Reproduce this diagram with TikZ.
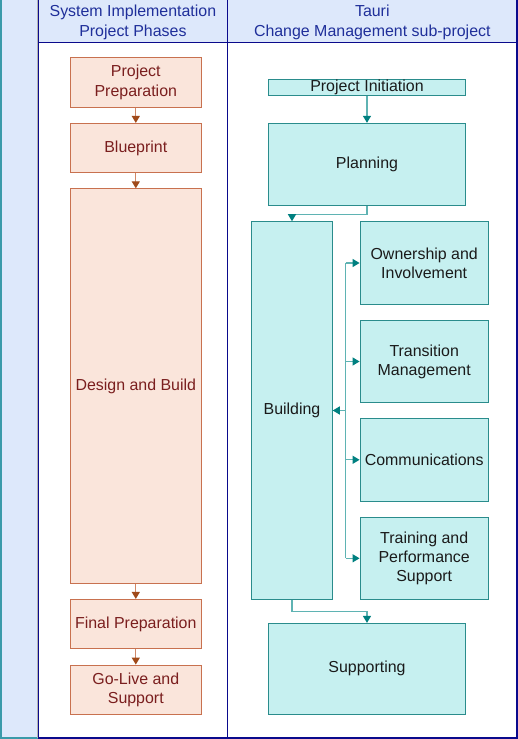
\documentclass[tikz,border=0pt]{standalone}
\usepackage{fontspec}
\setmainfont{Liberation Sans}
\usetikzlibrary{arrows.meta}
\definecolor{hdrfill}{HTML}{DDE8FB}
\definecolor{navy}{HTML}{0A0A8C}
\definecolor{stripedge}{HTML}{3A9AAA}
\definecolor{hdrtext}{HTML}{1F2F9A}
\definecolor{pfill}{HTML}{FAE5DB}
\definecolor{pdraw}{HTML}{C8714F}
\definecolor{ptext}{HTML}{7A1E1E}
\definecolor{parrow}{HTML}{A04A1A}
\definecolor{pline}{HTML}{D08868}
\definecolor{tfill}{HTML}{C6F0F0}
\definecolor{tdraw}{HTML}{2A8C8C}
\definecolor{tline}{HTML}{5FB3B3}
\definecolor{tarrow}{HTML}{008080}
\definecolor{ttext}{HTML}{1A1A1A}
\tikzset{
  base/.style={rectangle, inner sep=0pt, align=center, line width=0.9bp,
    font=\fontsize{16}{19.3}\selectfont},
  pbox/.style={base, fill=pfill, draw=pdraw, text=ptext, minimum width=131.5bp},
  tbox/.style={base, fill=tfill, draw=tdraw, text=ttext},
  parr/.style={draw=pline, line width=1.3bp, -{Triangle[length=7bp,width=8bp,color=parrow]}},
  tarr/.style={draw=tline, line width=1.3bp, -{Triangle[length=7bp,width=8bp,color=tarrow]}},
  hdr/.style={text=hdrtext, align=center, font=\fontsize{16}{19.3}\selectfont}
}
\begin{document}
\begin{tikzpicture}[x=1bp,y=-1bp]
\useasboundingbox (0,0) rectangle (518,739);
% background
\fill[white] (0,0) rectangle (518,739);
\fill[hdrfill] (0,0) rectangle (38,739);
\fill[hdrfill] (38,0) rectangle (518,42.7);
% strip edges
\draw[stripedge, line width=1.5bp] (0.75,0) -- (0.75,738);
\draw[stripedge, line width=1.5bp] (0,738) -- (38,738);
\draw[black!30, line width=0.8bp] (37,0) -- (37,738);
% grid
\draw[navy, line width=1.5bp] (38.5,0) -- (38.5,738.2);
\draw[navy, line width=1.5bp] (227.5,0) -- (227.5,738.2);
\draw[navy, line width=1.5bp] (517.2,0) -- (517.2,738.2);
\draw[navy, line width=1.5bp] (38,42.7) -- (518,42.7);
\draw[navy, line width=1.5bp] (38,738) -- (518,738);
% headers
\node[hdr] (h1) at (132.9,22.3) {System Implementation\\Project Phases};
\node[hdr] (h2) at (372.3,22.3) {Tauri\\Change Management sub-project};
% left column
\node[pbox, minimum height=49.3bp] (pp) at (135.8,82.4) {Project\\Preparation};
\node[pbox, minimum height=49.3bp] (bp) at (135.8,148) {Blueprint};
\node[pbox, minimum height=394.3bp] (db) at (135.8,385.9) {Design and Build};
\node[pbox, minimum height=49.3bp] (fp) at (135.8,624) {Final Preparation};
\node[pbox, minimum height=49.3bp] (gl) at (135.8,689.7) {Go-Live and\\Support};
\draw[parr] (pp) -- (bp);
\draw[parr] (bp) -- (db);
\draw[parr] (db) -- (fp);
\draw[parr] (fp) -- (gl);
% right column
\node[tbox, minimum width=197.5bp, minimum height=16.3bp] (pi) at (367,87.2) {Project Initiation};
\node[tbox, minimum width=197.5bp, minimum height=82.4bp] (pl) at (367,164.5) {Planning};
\node[tbox, minimum width=80.6bp, minimum height=377.6bp] (bu) at (292,410.5) {Building};
\node[tbox, minimum width=128.3bp, minimum height=82.6bp] (ow) at (424.2,263) {Ownership and\\Involvement};
\node[tbox, minimum width=128.3bp, minimum height=81.6bp] (tm) at (424.2,361.5) {Transition\\Management};
\node[tbox, minimum width=128.3bp, minimum height=82.3bp] (co) at (424.2,459.8) {Communications};
\node[tbox, minimum width=128.3bp, minimum height=82bp] (tr) at (424.2,558.3) {Training and\\Performance\\Support};
\node[tbox, minimum width=197.5bp, minimum height=90.7bp] (su) at (367,668.7) {Supporting};
\coordinate (bus) at (345.7,410.5);
\draw[tarr] (pi) -- (pl);
\draw[tarr] (pl.south) -- ++(0,8.6) -| (bu.north);
\draw[tarr] (bu.south) -- ++(0,11.7) -| (su.north);
\draw[tline, line width=1.3bp] (bus |- ow.west) -- (bus |- tr.west);
\draw[tarr] (bus) -- (bu.east);
\draw[tarr] (bus |- ow.west) -- (ow.west);
\draw[tarr] (bus |- tm.west) -- (tm.west);
\draw[tarr] (bus |- co.west) -- (co.west);
\draw[tarr] (bus |- tr.west) -- (tr.west);
\end{tikzpicture}
\end{document}
